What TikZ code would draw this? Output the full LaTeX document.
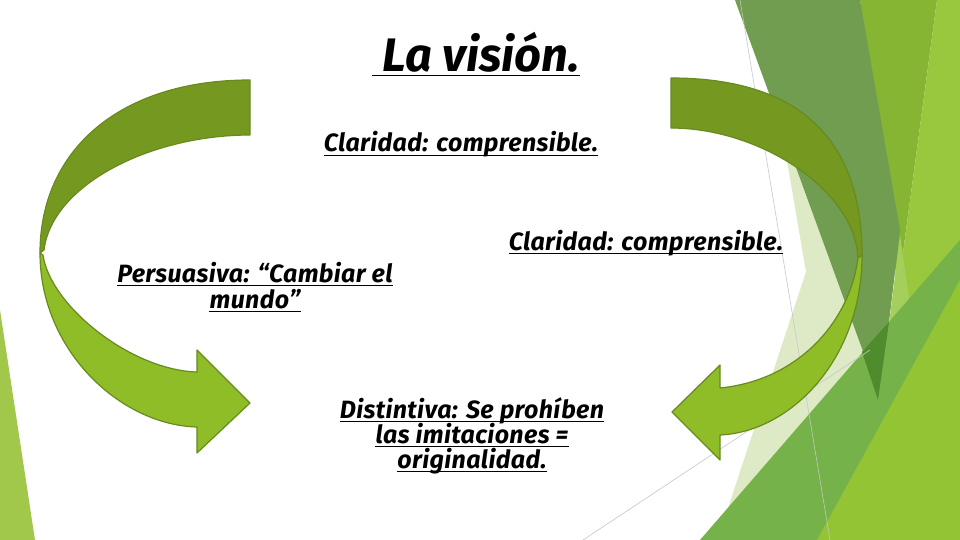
\documentclass[tikz,border=0pt]{standalone}
\usepackage{fontspec}
\setmainfont{Fira Sans}
\usepackage{xcolor}
\usepackage{tikz}

\definecolor{sage}{RGB}{112,157,79}
\definecolor{midlime}{RGB}{134,180,51}
\definecolor{brightlime}{RGB}{153,200,62}
\definecolor{pale}{RGB}{222,234,198}
\definecolor{stripe}{RGB}{165,207,92}
\definecolor{leafgreen}{RGB}{118,178,74}
\definecolor{sunlime}{RGB}{146,196,52}
\definecolor{deepgreen}{RGB}{78,140,46}
\definecolor{sliver}{RGB}{161,200,75}
\definecolor{olive}{RGB}{117,153,32}
\definecolor{lime}{RGB}{143,189,39}
\definecolor{rim}{RGB}{104,138,30}

\begin{document}
\begin{tikzpicture}[x=1pt, y=-1pt,
    texto/.style={font=\bfseries\itshape\fontsize{25}{26}\selectfont\addfontfeatures{LetterSpace=1.5}, inner sep=0pt, anchor=base},
    raya/.style={draw=black, line width=1.8pt},
    back/.style={fill=olive, draw=rim, line width=1.2pt, line join=round},
    front/.style={fill=lime, draw=rim, line width=1.2pt, line join=round},
    guide/.style={draw=gray!45, line width=0.6pt}]
      \useasboundingbox (0,0) rectangle (960,540);
      \fill[white] (0,0) rectangle (960,540);

      % facetas de fondo
      \fill[sliver] (0,310) -- (35,540) -- (0,540) -- cycle;
      \fill[pale] (786,155) -- (806,272) -- (728,508) -- (900,400) -- (850,180) -- cycle;
      \fill[midlime] (860,0) -- (937,0) -- (898,290) -- cycle;
      \fill[brightlime] (937,0) -- (960,0) -- (960,540) -- (840,540) -- (898,290) -- cycle;
      \fill[sage] (735,0) -- (860,0) -- (900,230) -- (880,398) -- cycle;
      \fill[stripe] (900,235) -- (918,360) -- (872,448) -- (880,398) -- cycle;
      \fill[leafgreen] (700,540) -- (960,240) -- (960,540) -- cycle;
      \fill[sunlime] (817,540) -- (960,280) -- (960,540) -- cycle;
      \fill[deepgreen] (862,352) -- (889,322) -- (878,400) -- cycle;
      \draw[guide] (740,0) -- (830,540);
      \draw[guide] (583,540) -- (870,350);

      % flechas
      \draw[back] (250,80) .. controls (120,80) and (40,150) .. (40,253) -- (44,250) .. controls (52,185) and (150,135) .. (250,135) -- cycle;
      \draw[front] (40,253) .. controls (40,350) and (120,425) .. (197,427) -- (197,453) -- (250,403) -- (197,350) -- (197,372) .. controls (130,370) and (50,305) .. (43,255) -- cycle;
      \draw[back] (671,78) .. controls (800,78) and (862,140) .. (862,255) -- (858,258) .. controls (855,190) and (760,128) .. (671,128) -- cycle;
      \draw[front] (862,255) .. controls (862,360) and (790,432) .. (720,435) -- (720,460) -- (672,412) -- (720,365) -- (720,388) .. controls (800,380) and (850,320) .. (858,258) -- cycle;

      \node[texto, font=\bfseries\itshape\fontsize{47}{47}\selectfont] (titulo) at (476,72) {\ La visión.};
      \node[texto] (claridad) at (461,152) {Claridad: comprensible.};
      \node[texto] (claridad2) at (646,250) {Claridad: comprensible.};
      \node[texto] (persuasiva) at (255,282) {Persuasiva: “Cambiar el};
      \node[texto] (mundo) at (255,308) {mundo”};
      \node[texto] (distintiva) at (472,418) {Distintiva: Se prohíben};
      \node[texto] (imitaciones) at (472,443) {las imitaciones =};
      \node[texto] (originalidad) at (472,468) {originalidad.};

      \foreach \n in {titulo, claridad, claridad2, persuasiva, mundo, distintiva, imitaciones, originalidad}
        \draw[raya] ([yshift=-3.5pt]\n.base west) -- ([yshift=-3.5pt]\n.base east);
    \end{tikzpicture}
\end{document}
